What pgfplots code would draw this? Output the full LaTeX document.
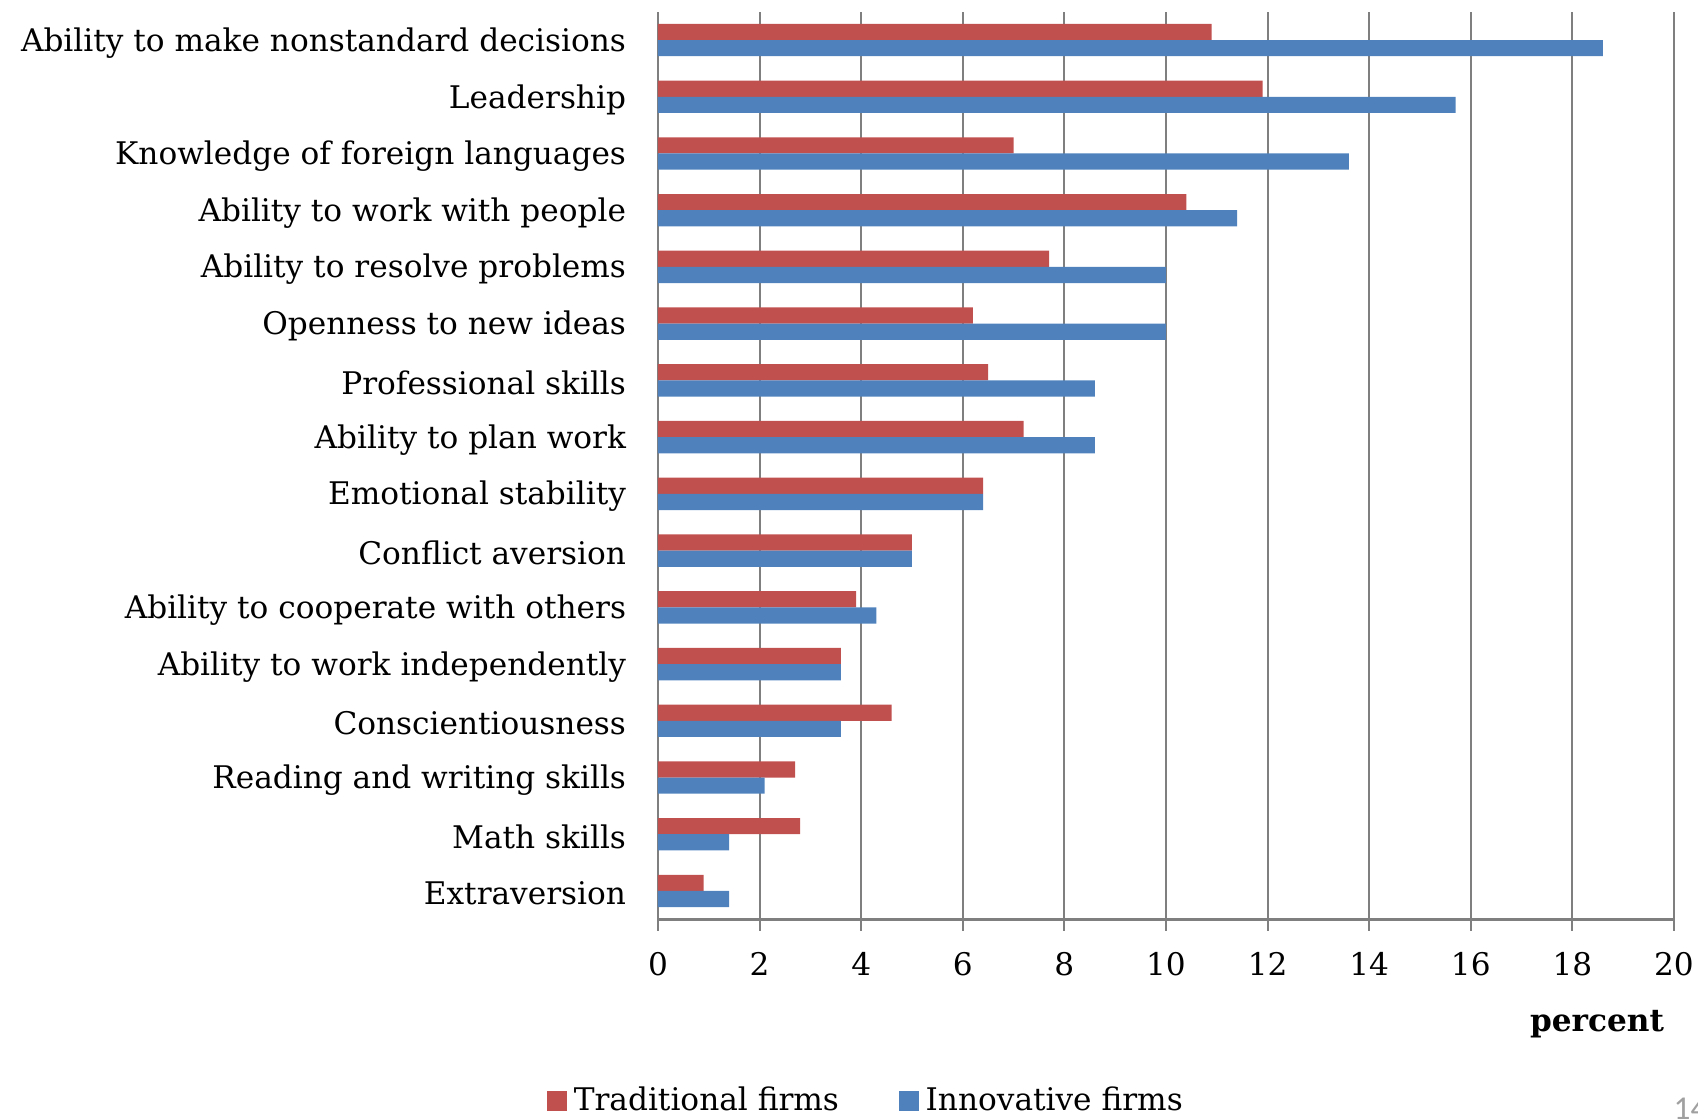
\documentclass[border=0pt]{standalone}
\usepackage{pgfplots}
\pgfplotsset{compat=1.18}
\usepackage{fontspec}
\setmainfont{DejaVu Serif}
\newfontfamily\pagefont{Carlito}
\definecolor{tradred}{HTML}{C0504D}
\definecolor{innoblue}{HTML}{4F81BD}
\definecolor{gridgray}{HTML}{7F7F7F}
\newcommand{\lblfont}{\fontsize{9.35pt}{11pt}\selectfont}
\begin{document}
\begin{tikzpicture}
\begin{axis}[
  scale only axis,
  width=304.8pt, height=272.3pt,
  xmin=0, xmax=20, ymin=-0.5, ymax=15.5,
  xbar, bar width=4.86pt,
  axis lines*=left,
  axis line style={gridgray, line width=0.7pt},
  xtick={0,2,...,20},
  ytick={0,...,15},
  yticklabels={Extraversion, Math skills, Reading and writing skills, Conscientiousness\hspace{0.33em}, Ability to work independently, Ability to cooperate with others, Conflict aversion, Emotional stability, Ability to plan work, Professional skills, Openness to new ideas, Ability to resolve problems, Ability to work with people, Knowledge of foreign languages, Leadership, Ability to make nonstandard decisions},
  tick align=outside,
  major tick length=3.4pt,
  xtick style={gridgray, line width=0.6pt},
  ytick style={draw=none},
  xmajorgrids,
  major grid style={gridgray, line width=0.6pt},
  /pgf/number format/assume math mode=true,
  xticklabel style={font=\lblfont, anchor=north, inner sep=0pt, yshift=-6.4pt},
  yticklabel style={font=\lblfont, anchor=east, inner sep=0pt, xshift=-6.0pt, yshift=-0.8pt},
  xlabel={\textbf{percent}},
  xlabel style={font=\lblfont, at={(axis description cs:0.9908,-0.1238)}, anchor=base east, inner sep=0pt},
  legend columns=2,
  legend style={draw=none, fill=none, font=\lblfont, at={(axis description cs:0.207,-0.2002)}, anchor=center,
    /tikz/every even column/.append style={column sep=16pt}},
  legend image code/.code={\draw[#1,draw=none] (0pt,-3pt) rectangle (6pt,3pt);},
]
\addplot[fill=tradred, draw=none, bar shift=2.43pt] coordinates {
(0.9,0) (2.8,1) (2.7,2) (4.6,3) (3.6,4) (3.9,5) (5.0,6) (6.4,7)
(7.2,8) (6.5,9) (6.2,10) (7.7,11) (10.4,12) (7.0,13) (11.9,14) (10.9,15)};
\addlegendentry{Traditional firms}
\addplot[fill=innoblue, draw=none, bar shift=-2.43pt] coordinates {
(1.4,0) (1.4,1) (2.1,2) (3.6,3) (3.6,4) (4.3,5) (5.0,6) (6.4,7)
(8.6,8) (8.6,9) (10.0,10) (10.0,11) (11.4,12) (13.6,13) (15.7,14) (18.6,15)};
\addlegendentry{Innovative firms}
\end{axis}
\node[anchor=north west, inner sep=0pt, text={rgb,255:red,160;green,160;blue,160}] at (304.5pt,-53.3pt) {\pagefont\fontsize{10pt}{12pt}\selectfont 14};
\pgfresetboundingbox
\useasboundingbox (-197.4pt,-59.6pt) rectangle (312pt,275.8pt);
\end{tikzpicture}
\end{document}
